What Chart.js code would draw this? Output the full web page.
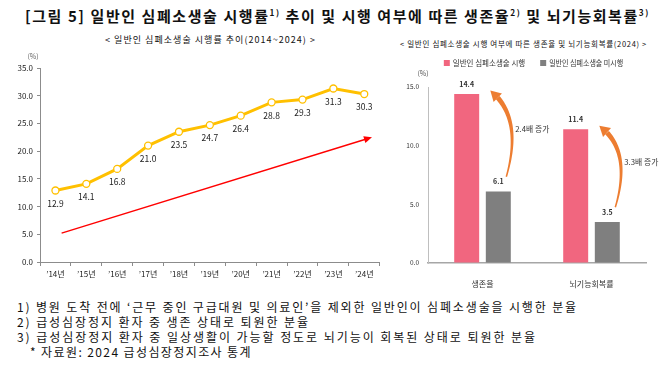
<!DOCTYPE html>
<html>

<head>
  <meta charset="utf-8">
  <title>일반인 심폐소생술 시행률</title>
  <script src="https://cdn.jsdelivr.net/npm/chart.js@4"></script>
  <style>
    body { margin: 0; width: 670px; height: 365px; background: #fff; position: relative; overflow: hidden;
           font-family: "Noto Sans CJK KR", "Noto Sans", sans-serif; color: #111; }
    .txt { position: absolute; white-space: nowrap; line-height: 1; }
    .txt sup { font-size: 0.55em; vertical-align: 0.7em; }
    canvas { position: absolute; }
  </style>
</head>

<body>
  <div class="txt" id="title" style="left:25px; top:8px; font-size:15px; font-weight:bold;" data-w="625">[그림 5] 일반인 심폐소생술 시행률<sup>1)</sup> 추이 및 시행 여부에 따른 생존율<sup>2)</sup> 및 뇌기능회복률<sup>3)</sup></div>
  <div class="txt" id="subLeft" style="left:105px; top:35px; font-size:9px;" data-w="211">&lt; 일반인 심폐소생술 시행률 추이(2014~2024) &gt;</div>
  <div class="txt" id="subRight" style="left:400px; top:40px; font-size:7.5px;" data-w="247">&lt; 일반인 심폐소생술 시행 여부에 따른 생존율 및 뇌기능회복률(2024) &gt;</div>

  <canvas id="trendChart" width="385" height="240" style="left:0; top:50px;"></canvas>
  <canvas id="outcomeChart" width="285" height="240" style="left:385px; top:50px;"></canvas>

  <div class="txt foot" style="left:17px; top:301px; font-size:12px;" data-w="561">1) 병원 도착 전에 ‘근무 중인 구급대원 및 의료인’을 제외한 일반인이 심폐소생술을 시행한 분율</div>
  <div class="txt foot" style="left:17px; top:316px; font-size:12px;" data-w="293">2) 급성심장정지 환자 중 생존 상태로 퇴원한 분율</div>
  <div class="txt foot" style="left:17px; top:331px; font-size:12px;" data-w="520">3) 급성심장정지 환자 중 일상생활이 가능할 정도로 뇌기능이 회복된 상태로 퇴원한 분율</div>
  <div class="txt foot" style="left:30px; top:346px; font-size:12px;" data-w="222">* 자료원: 2024 급성심장정지조사 통계</div>

  <script>
    // left chart: CPR rate by year
    const years = ['’14년', '’15년', '’16년', '’17년', '’18년', '’19년', '’20년', '’21년', '’22년', '’23년', '’24년'];
    const cprRate = [12.9, 14.1, 16.8, 21.0, 23.5, 24.7, 26.4, 28.8, 29.3, 31.3, 30.3];
    // red trend arrow, in (category index, %) units
    const trendStart = [0.2, 5.2];
    const trendEnd = [10.25, 22.5];

    // right chart: survival / brain recovery
    const outcomes = ['생존율', '뇌기능회복률'];
    const withCpr = [14.4, 11.4];
    const withoutCpr = [6.1, 3.5];
    const ratioLabels = ['2.4배 증가', '3.3배 증가'];

    const FONT = '"Noto Sans CJK KR", "Noto Sans", sans-serif';
    Chart.defaults.font.family = FONT;
    Chart.defaults.color = '#333';

    // stretch html text to the widths in the picture
    document.querySelectorAll('.txt').forEach(el => {
      const target = +el.dataset.w;
      el.style.letterSpacing = '0px';
      const w = el.getBoundingClientRect().width;
      const n = el.textContent.length;
      el.style.letterSpacing = ((target - w) / n).toFixed(3) + 'px';
    });

    const trendExtras = {
      id: 'trendExtras',
      afterDatasetsDraw(chart) {
        const { ctx, scales: { x, y } } = chart;
        ctx.save();
        // value labels under the points
        ctx.font = '8.5px ' + FONT;
        ctx.fillStyle = '#222';
        ctx.textAlign = 'center';
        ctx.textBaseline = 'middle';
        chart.getDatasetMeta(0).data.forEach((pt, i) => {
          ctx.fillText(cprRate[i].toFixed(1), pt.x, pt.y + 13);
        });
        // unit
        ctx.font = '7px ' + FONT;
        ctx.fillStyle = '#666';
        ctx.fillText('(%)', x.left - 7, y.top - 12);

        // red trend arrow
        const x0 = x.getPixelForValue(trendStart[0]), y0 = y.getPixelForValue(trendStart[1]);
        const x1 = x.getPixelForValue(trendEnd[0]), y1 = y.getPixelForValue(trendEnd[1]);
        const a = Math.atan2(y1 - y0, x1 - x0);
        ctx.strokeStyle = '#FF0000';
        ctx.fillStyle = '#FF0000';
        ctx.lineWidth = 1.4;
        ctx.beginPath();
        ctx.moveTo(x0, y0);
        ctx.lineTo(x1 - 5 * Math.cos(a), y1 - 5 * Math.sin(a));
        ctx.stroke();
        ctx.beginPath();
        ctx.moveTo(x1, y1);
        ctx.lineTo(x1 - 8 * Math.cos(a) + 3.5 * Math.sin(a), y1 - 8 * Math.sin(a) - 3.5 * Math.cos(a));
        ctx.lineTo(x1 - 8 * Math.cos(a) - 3.5 * Math.sin(a), y1 - 8 * Math.sin(a) + 3.5 * Math.cos(a));
        ctx.closePath();
        ctx.fill();
        ctx.restore();
      }
    };

    new Chart(document.getElementById('trendChart'), {
      type: 'line',
      data: {
        labels: years,
        datasets: [{
          data: cprRate,
          borderColor: '#FFC000',
          borderWidth: 3,
          pointRadius: 3.5,
          pointBackgroundColor: '#fff',
          pointBorderColor: '#FFC000',
          pointBorderWidth: 1.3,
          tension: 0,
        }],
      },
      options: {
        responsive: false,
        animation: false,
        layout: { padding: { top: 18, right: 5, left: 0, bottom: 0 } },
        plugins: { legend: { display: false }, tooltip: { enabled: false } },
        scales: {
          x: {
            offset: true,
            grid: { offset: true, drawOnChartArea: false, tickLength: 4, color: '#8C8C8C' },
            border: { color: '#8C8C8C' },
            ticks: { font: { size: 8 }, color: '#222', padding: 3, maxRotation: 0 },
            afterFit: s => { s.height = 28; },
          },
          y: {
            min: 0,
            max: 35,
            ticks: { stepSize: 5, callback: v => v.toFixed(1), font: { size: 8 }, color: '#222', padding: 4 },
            grid: { drawOnChartArea: false, tickLength: 3, color: '#8C8C8C' },
            border: { color: '#8C8C8C' },
            afterFit: s => { s.width = 40; },
          },
        },
      },
      plugins: [trendExtras],
    });

    // tapered curved arrow along a quadratic curve
    function curvedArrow(ctx, p0, c, p2, w0, w1, headLen, headW) {
      const pt = t => [
        (1 - t) * (1 - t) * p0[0] + 2 * (1 - t) * t * c[0] + t * t * p2[0],
        (1 - t) * (1 - t) * p0[1] + 2 * (1 - t) * t * c[1] + t * t * p2[1],
      ];
      // find where the head starts
      let tb = 1;
      while (tb > 0) {
        const q = pt(tb);
        if (Math.hypot(p2[0] - q[0], p2[1] - q[1]) >= headLen) break;
        tb -= 0.005;
      }
      const left = [], right = [];
      const steps = 40;
      for (let i = 0; i <= steps; i++) {
        const t = tb * i / steps;
        const q = pt(t);
        const dx = 2 * (1 - t) * (c[0] - p0[0]) + 2 * t * (p2[0] - c[0]);
        const dy = 2 * (1 - t) * (c[1] - p0[1]) + 2 * t * (p2[1] - c[1]);
        const len = Math.hypot(dx, dy) || 1;
        const nx = -dy / len, ny = dx / len;
        const w = (w0 + (w1 - w0) * i / steps) / 2;
        left.push([q[0] + nx * w, q[1] + ny * w]);
        right.push([q[0] - nx * w, q[1] - ny * w]);
      }
      ctx.beginPath();
      left.forEach((p, i) => i ? ctx.lineTo(p[0], p[1]) : ctx.moveTo(p[0], p[1]));
      right.reverse().forEach(p => ctx.lineTo(p[0], p[1]));
      ctx.closePath();
      ctx.fill();
      const b = pt(tb);
      const a = Math.atan2(p2[1] - b[1], p2[0] - b[0]);
      ctx.beginPath();
      ctx.moveTo(p2[0], p2[1]);
      ctx.lineTo(b[0] + Math.sin(a) * headW / 2, b[1] - Math.cos(a) * headW / 2);
      ctx.lineTo(b[0] - Math.sin(a) * headW / 2, b[1] + Math.cos(a) * headW / 2);
      ctx.closePath();
      ctx.fill();
    }

    const outcomeExtras = {
      id: 'outcomeExtras',
      afterDatasetsDraw(chart) {
        const { ctx, scales: { x, y } } = chart;
        const pink = chart.getDatasetMeta(0).data;
        const gray = chart.getDatasetMeta(1).data;
        ctx.save();
        ctx.textAlign = 'center';
        ctx.textBaseline = 'middle';

        // bar value labels
        ctx.font = 'bold 7px ' + FONT;
        ctx.fillStyle = '#333';
        [pink, gray].forEach((bars, d) => {
          const vals = d ? withoutCpr : withCpr;
          bars.forEach((bar, i) => ctx.fillText(vals[i].toFixed(1), bar.x, bar.y - 10));
        });

        // unit
        ctx.font = '7px ' + FONT;
        ctx.fillStyle = '#555';
        ctx.fillText('(%)', x.left - 5, y.top - 14);

        // legend
        ctx.font = '7.5px ' + FONT;
        const items = chart.data.datasets.map(ds => ({ label: ds.label, color: ds.backgroundColor }));
        const widths = items.map(it => Math.min(ctx.measureText(it.label).width, 74));
        const gap = 14;
        let total = widths.reduce((s, w) => s + w + 10, 0) + gap * (items.length - 1);
        let lx = 149 - total / 2;
        const ly = 13;
        ctx.textAlign = 'left';
        items.forEach((it, i) => {
          ctx.fillStyle = it.color;
          ctx.fillRect(lx, ly - 3, 6, 6);
          ctx.fillStyle = '#333';
          ctx.fillText(it.label, lx + 9, ly, 74);
          lx += widths[i] + 10 + gap;
        });

        // orange curved arrows with ratio text
        ctx.fillStyle = '#ED7D31';
        gray.forEach((g, i) => {
          const tailV = withoutCpr[i] + 1.25;
          const tipV = withCpr[i] + 0.3;
          const tail = [g.x + 8, y.getPixelForValue(tailV)];
          const tip = [g.x - 8, y.getPixelForValue(tipV)];
          const ctrl = [g.x + 25, y.getPixelForValue((tailV + tipV) / 2 + 1.4)];
          curvedArrow(ctx, tail, ctrl, tip, 1.5, 5, 10, 12);
        });
        ctx.textAlign = 'center';
        ctx.font = '8px ' + FONT;
        ctx.fillStyle = '#333';
        gray.forEach((g, i) => {
          const mid = (withCpr[i] + withoutCpr[i]) / 2 + 1.2;
          ctx.fillText(ratioLabels[i], g.x + 34, y.getPixelForValue(mid), 34);
        });
        ctx.restore();
      }
    };

    new Chart(document.getElementById('outcomeChart'), {
      type: 'bar',
      data: {
        labels: outcomes,
        datasets: [
          { label: '일반인 심폐소생술 시행', data: withCpr, backgroundColor: '#F1667F', categoryPercentage: 0.58, barPercentage: 0.79 },
          { label: '일반인 심폐소생술 미시행', data: withoutCpr, backgroundColor: '#7F7F7F', categoryPercentage: 0.58, barPercentage: 0.79 },
        ],
      },
      options: {
        responsive: false,
        animation: false,
        layout: { padding: { top: 37, right: 24, left: 0, bottom: 0 } },
        plugins: { legend: { display: false }, tooltip: { enabled: false } },
        scales: {
          x: {
            grid: { display: false },
            border: { color: '#A6A6A6', width: 1.5 },
            ticks: { font: { size: 8 }, color: '#333', padding: 8 },
            afterFit: s => { s.height = 27; },
          },
          y: {
            min: 0,
            max: 15,
            ticks: { stepSize: 5, callback: v => v.toFixed(1), font: { size: 6.5 }, color: '#333', padding: 9 },
            grid: { drawOnChartArea: false, drawTicks: false },
            border: { color: '#BFBFBF' },
            afterFit: s => { s.width = 43; },
          },
        },
      },
      plugins: [outcomeExtras],
    });
  </script>
</body>

</html>
